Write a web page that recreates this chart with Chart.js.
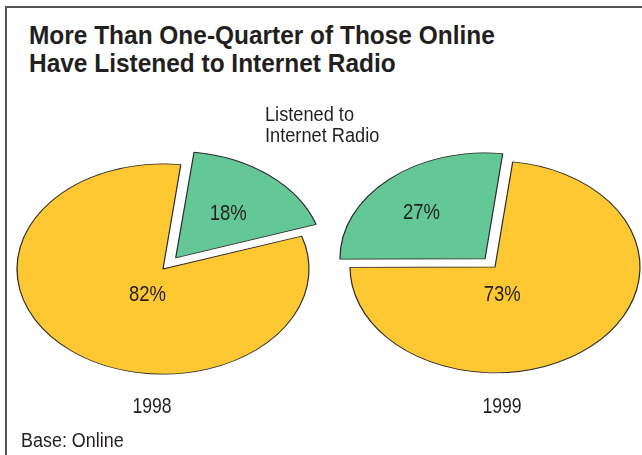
<!DOCTYPE html>
<html>
<head>
<meta charset="utf-8">
<title>Internet Radio</title>
<script src="https://cdn.jsdelivr.net/npm/chart.js@4.4.1/dist/chart.umd.min.js"></script>
<style>
  html, body { margin: 0; padding: 0; background: #fff; overflow: hidden; }
  #page {
    position: relative; width: 642px; height: 455px; overflow: hidden;
    font-family: "Liberation Sans", Arial, sans-serif;
    color: #231f20;
  }
  #frame {
    position: absolute; left: 5px; top: 6px; width: 700px; height: 520px;
    border-left: 2px solid #555; border-top: 2px solid #555;
  }
  canvas { position: absolute; z-index: 1; }
  /* texte condensé à la main (pas de police étroite installée) */
  .txt { position: absolute; z-index: 2; white-space: nowrap; transform-origin: left top; }
  #title { left: 29px; top: 22px; font-size: 26px; line-height: 27.6px; font-weight: bold; transform: scaleX(0.94); }
  #callout { left: 265px; top: 104px; font-size: 20px; line-height: 20.5px; transform: scaleX(0.91); }
  .year { font-size: 22px; top: 393px; width: 80px; text-align: center; transform-origin: center top; transform: scaleX(0.8); }
  #base { left: 21px; top: 429px; font-size: 19.5px; transform: scaleX(0.92); }
</style>
</head>
<body>
<div id="page">
  <div id="frame"></div>
  <div class="txt" id="title">More Than One-Quarter of Those Online<br>Have Listened to Internet Radio</div>
  <div class="txt" id="callout">Listened to<br>Internet Radio</div>
  <div class="txt year" id="year0" style="left:112px"></div>
  <div class="txt year" id="year1" style="left:462px"></div>
  <div class="txt" id="base">Base: Online</div>
  <canvas id="pie0" width="340" height="340" style="left:-7px; top:99px"></canvas>
  <canvas id="pie1" width="340" height="340" style="left:325px; top:97px"></canvas>
</div>
<script>
// données
const years = ['1998', '1999'];
const sliceNames = ['Listened to Internet Radio', 'Have not listened'];
const listened = [18, 27];
const notListened = [82, 73];

const green = '#64c896';
const yellow = '#fec832';
const outline = '#2a2a2a';

// écrase le cercle en ellipse et écrit les pourcentages
const ellipsePlugin = {
  id: 'ellipse',
  beforeDatasetsDraw(chart, args, opts) {
    const arc = chart.getDatasetMeta(0).data[0];
    const ctx = chart.ctx;
    ctx.save();
    ctx.translate(arc.x, arc.y);
    ctx.scale(1, opts.ratio);
    ctx.translate(-arc.x, -arc.y);
  },
  afterDatasetsDraw(chart, args, opts) {
    const ctx = chart.ctx;
    ctx.restore();
    const meta = chart.getDatasetMeta(0);
    meta.data.forEach((arc, i) => {
      const spot = opts.spots[i];
      const mid = (arc.startAngle + arc.endAngle) / 2;
      const off = (arc.options.offset || 0) / 4;
      const a = (spot.angle - 90) * Math.PI / 180;
      const r = arc.outerRadius * spot.dist;
      const x = arc.x + Math.cos(mid) * off + Math.cos(a) * r;
      const y = arc.y + (Math.sin(mid) * off + Math.sin(a) * r) * opts.ratio;
      ctx.save();
      ctx.translate(x, y);
      ctx.scale(0.86, 1);
      ctx.font = '21.5px "Liberation Sans", Arial, sans-serif';
      ctx.fillStyle = '#231f20';
      ctx.textAlign = 'center';
      ctx.textBaseline = 'middle';
      ctx.fillText(chart.data.datasets[0].data[i] + '%', 0, 1);
      ctx.restore();
    });
  }
};

const pieSetup = [
  { radius: 146, ratio: 0.72, rotation: 7, offset: 80,
    spots: [{ angle: 40, dist: 0.56 }, { angle: 204, dist: 0.26 }] },
  { radius: 145, ratio: 0.73, rotation: 7 - 27 * 3.6, offset: 60,
    spots: [{ angle: 315, dist: 0.62 }, { angle: 169, dist: 0.26 }] }
];

years.forEach((year, i) => {
  document.getElementById('year' + i).textContent = year;
  const s = pieSetup[i];
  new Chart(document.getElementById('pie' + i), {
    type: 'pie',
    data: {
      labels: sliceNames,
      datasets: [{
        data: [listened[i], notListened[i]],
        backgroundColor: [green, yellow],
        borderColor: outline,
        borderWidth: 1.2,
        offset: [s.offset, 0],
        hoverOffset: 0
      }]
    },
    options: {
      responsive: false,
      animation: false,
      events: [],
      radius: s.radius,
      rotation: s.rotation,
      layout: { padding: 0 },
      plugins: {
        legend: { display: false },
        tooltip: { enabled: false },
        ellipse: { ratio: s.ratio, spots: s.spots }
      }
    },
    plugins: [ellipsePlugin]
  });
});
</script>
</body>
</html>
